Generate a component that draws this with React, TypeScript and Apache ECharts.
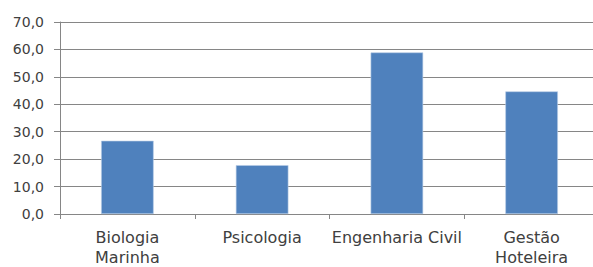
import React, { useEffect, useRef } from "react";
import * as echarts from "echarts";

const categories = ["Biologia\nMarinha", "Psicologia", "Engenharia Civil", "Gestão\nHoteleira"];
const values = [26.7, 17.8, 58.9, 44.7];
const yMin = 0;
const yMax = 70;
const yInterval = 10;

export default function App() {
  const ref = useRef<HTMLDivElement>(null);
  useEffect(() => {
    if (!ref.current) return;
    const chart = echarts.init(ref.current, null, { renderer: "svg" });
    const font = "'DejaVu Sans', sans-serif";
    chart.setOption({
      animation: false,
      grid: { left: 60, top: 22, bottom: 50, right: 0, containLabel: false },
      xAxis: {
        type: "category",
        data: categories,
        axisLine: { show: true, lineStyle: { color: "#868686", width: 1 } },
        axisTick: { show: true, length: 5, alignWithLabel: false, lineStyle: { color: "#868686" } },
        axisLabel: {
          color: "#404040",
          fontFamily: font,
          fontSize: 16,
          lineHeight: 20,
          margin: 13,
          interval: 0,
        },
      },
      yAxis: {
        type: "value",
        min: yMin,
        max: yMax,
        interval: yInterval,
        axisLine: { show: true, lineStyle: { color: "#868686", width: 1 } },
        axisTick: { show: true, length: 6, lineStyle: { color: "#868686" } },
        splitLine: { show: true, lineStyle: { color: "#868686", width: 1 } },
        axisLabel: {
          color: "#404040",
          fontFamily: font,
          fontSize: 14,
          margin: 16,
          formatter: (v: number) => v.toFixed(1).replace(".", ","),
        },
      },
      series: [
        {
          type: "bar",
          data: values,
          barWidth: "39%",
          itemStyle: { color: "#4F81BD", borderColor: "#B9CDE5", borderWidth: 0.6 },
        },
      ],
    });
    return () => chart.dispose();
  }, []);
  return (
    <div style={{ position: "fixed", left: 0, top: 0, width: 593, height: 267, overflow: "hidden", background: "#fff" }}>
      <div ref={ref} style={{ width: 599, height: 267 }} />
    </div>
  );
}
